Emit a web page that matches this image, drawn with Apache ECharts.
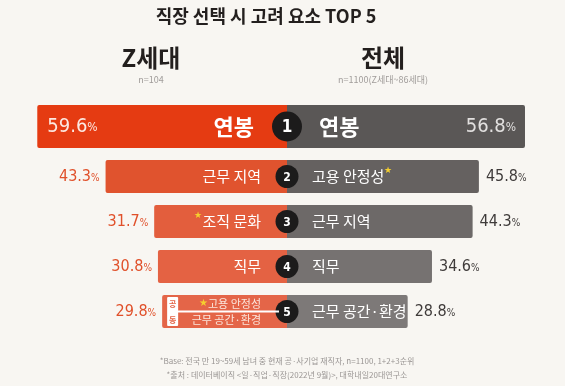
<!DOCTYPE html>
<html><head><meta charset="utf-8">
<script src="https://cdn.jsdelivr.net/npm/echarts@6/dist/echarts.min.js"></script>
<style>html,body{margin:0;padding:0;background:#F8F6F2}#c{width:565px;height:386px}</style>
</head><body><div id="c"></div>
<script>
const ranks = ['1','2','3','4','5'];
const zLabels = [['연봉'],['근무 지역'],['조직 문화'],['직무'],['고용 안정성','근무 공간·환경']];
const zStars = [[false],[false],[true],[false],[true,false]];
const zValues = [59.6,43.3,31.7,30.8,29.8];
const allLabels = ['연봉','고용 안정성','근무 지역','직무','근무 공간·환경'];
const allStars = [false,true,false,false,false];
const allValues = [56.8,45.8,44.3,34.6,28.8];
const titleText = '직장 선택 시 고려 요소 TOP 5';
const groupZ = 'Z세대', groupZn = 'n=104';
const groupAll = '전체', groupAlln = 'n=1100(Z세대~86세대)';
const note1 = '*Base: 전국 만 19~59세 남녀 중 현재 공·사기업 재직자, n=1100, 1+2+3순위';
const note2 = '*출처 : 데이터베이직 <일·직업·직장(2022년 9월)>, 대학내일20대연구소';
const tieTag = ['공','동'];

const KR = '"Noto Sans CJK KR", sans-serif';
const NUM = '"DejaVu Sans Condensed", "Liberation Sans Narrow", "Noto Sans CJK KR", sans-serif';
const leftColors = ['#E53B12','#E0532E','#E35E3D','#E46243','#E46548'];
const rightColors = ['#5A5756','#656160','#6D6968','#767271','#7D7978'];
const STAR = '#F5CF2E';

const data = ranks.map((r,i)=>[i, zValues[i], allValues[i]]);

function renderItem(params, api){
  const i = api.value(0);
  const zv = api.value(1), av = api.value(2);
  const c = api.coord([0, i]);
  const cx = c[0];
  const big = i === 0;
  const cy = c[1] + (big ? -5 : 0);
  const h = big ? 43 : 33;
  const L = api.coord([-zv, i])[0];
  const R = api.coord([av, i])[0];
  const kids = [];
  kids.push({type:'rect', shape:{x:L, y:cy-h/2, width:cx-L, height:h, r:[2,0,0,2]}, style:{fill:leftColors[i]}});
  kids.push({type:'rect', shape:{x:cx, y:cy-h/2, width:R-cx, height:h, r:[0,2,2,0]}, style:{fill:rightColors[i]}});
  kids.push({type:'circle', shape:{cx:cx, cy:cy, r: big?15:11.5}, style:{fill:'#1C1B1B'}});
  kids.push({type:'text', style:{text:ranks[i], x:cx, y:cy+1, align:'center', verticalAlign:'middle',
    fill:'#fff', font: (big?'bold 17px ':'bold 12px ')+NUM}});
  if (big){
    kids.push({type:'text', style:{text:'{n|'+zv.toFixed(1)+'}{p|%}', x:L+10, y:cy, align:'left', verticalAlign:'middle',
      rich:{n:{fontSize:20, fontFamily:NUM, fill:'#FCE9E2'}, p:{fontSize:12, fontFamily:NUM, fill:'#FCE9E2', padding:[3,0,0,0]}}}});
    kids.push({type:'text', style:{text:'{n|'+av.toFixed(1)+'}{p|%}', x:R-9, y:cy, align:'right', verticalAlign:'middle',
      rich:{n:{fontSize:20, fontFamily:NUM, fill:'#E2E0DF'}, p:{fontSize:12, fontFamily:NUM, fill:'#E2E0DF', padding:[3,0,0,0]}}}});
  } else {
    kids.push({type:'text', style:{text:'{n|'+zv.toFixed(1)+'}{p|%}', x:L-6, y:cy, align:'right', verticalAlign:'middle',
      rich:{n:{fontSize:16, fontFamily:NUM, fill:'#E0502A'}, p:{fontSize:10, fontFamily:NUM, fill:'#E0502A', padding:[3,0,0,0]}}}});
    kids.push({type:'text', style:{text:'{n|'+av.toFixed(1)+'}{p|%}', x:R+7, y:cy, align:'left', verticalAlign:'middle',
      rich:{n:{fontSize:16, fontFamily:NUM, fill:'#3F3B3A'}, p:{fontSize:10, fontFamily:NUM, fill:'#3F3B3A', padding:[3,0,0,0]}}}});
  }
  const nameSize = big ? 22 : 15;
  const nameWeight = big ? 'bold' : 'normal';
  const labs = zLabels[i];
  if (labs.length === 1){
    const t = (zStars[i][0] ? '{s|★}' : '') + '{t|'+labs[0]+'}';
    kids.push({type:'text', style:{text:t, x:cx-(big?33:26), y:cy, align:'right', verticalAlign:'middle',
      rich:{t:{fontSize:nameSize, fontWeight:nameWeight, fontFamily:KR, fill:'#fff', lineHeight:nameSize+4},
            s:{fontSize:9, fill:STAR, verticalAlign:'top', padding:[0,0,12,0]}}}});
  } else {
    const bx = L+5, by = cy-h/2+2, bh = h-4;
    kids.push({type:'line', shape:{x1:bx+5, y1:cy, x2:cx-8, y2:cy}, style:{stroke:'#fff', lineWidth:2}});
    kids.push({type:'rect', shape:{x:bx, y:by, width:11, height:bh, r:1}, style:{fill:'#fff'}});
    kids.push({type:'text', style:{text:tieTag[0], x:bx+5.5, y:cy-8, align:'center', verticalAlign:'middle', fill:leftColors[i], font:'bold 8px '+KR}});
    kids.push({type:'text', style:{text:tieTag[1], x:bx+5.5, y:cy+8, align:'center', verticalAlign:'middle', fill:leftColors[i], font:'bold 8px '+KR}});
    labs.forEach((lb, k)=>{
      const t = (zStars[i][k] ? '{s|★}' : '') + '{t|'+lb+'}';
      kids.push({type:'text', style:{text:t, x:cx-26, y:cy + (k===0?-8:8), align:'right', verticalAlign:'middle',
        rich:{t:{fontSize:11, fontFamily:KR, fill:'#FBE6DC', lineHeight:13}, s:{fontSize:10, fill:STAR, lineHeight:13}}}});
    });
  }
  const rt = '{t|'+allLabels[i]+'}' + (allStars[i] ? '{s|★}' : '');
  kids.push({type:'text', style:{text:rt, x:cx+(big?32:25), y:cy, align:'left', verticalAlign:'middle',
    rich:{t:{fontSize:nameSize, fontWeight:nameWeight, fontFamily:KR, fill:'#fff', lineHeight:nameSize+4},
          s:{fontSize:9, fill:STAR, verticalAlign:'top', padding:[0,0,12,0]}}}});
  return {type:'group', children:kids};
}

const chart = echarts.init(document.getElementById('c'), null, {renderer:'canvas'});
chart.setOption({
  backgroundColor:'#F8F6F2',
  animation:false,
  grid:{left:0, right:0, top:109, height:225},
  xAxis:{type:'value', min:-287/4.19, max:278/4.19, show:false},
  yAxis:{type:'category', data:ranks, inverse:true, show:false},
  graphic:[
    {type:'text', style:{text:titleText, x:266, y:16, align:'center', verticalAlign:'middle', fill:'#231F1E', font:'bold 18px '+KR}},
    {type:'text', style:{text:groupZ, x:151, y:58, align:'center', verticalAlign:'middle', fill:'#231F1E', font:'bold 24px '+KR}},
    {type:'text', style:{text:groupZn, x:151, y:80, align:'center', verticalAlign:'middle', fill:'#A09C9A', font:'9px '+KR}},
    {type:'text', style:{text:groupAll, x:383, y:58, align:'center', verticalAlign:'middle', fill:'#231F1E', font:'bold 24px '+KR}},
    {type:'text', style:{text:groupAlln, x:383, y:80, align:'center', verticalAlign:'middle', fill:'#A09C9A', font:'9px '+KR}},
    {type:'text', style:{text:note1, x:287, y:361, align:'center', verticalAlign:'middle', fill:'#9A9694', font:'8px '+KR}},
    {type:'text', style:{text:note2, x:287, y:375, align:'center', verticalAlign:'middle', fill:'#9A9694', font:'8px '+KR}}
  ],
  series:[{type:'custom', coordinateSystem:'cartesian2d', renderItem:renderItem, data:data, encode:{y:0, x:[1,2]}}]
});
</script></body></html>
